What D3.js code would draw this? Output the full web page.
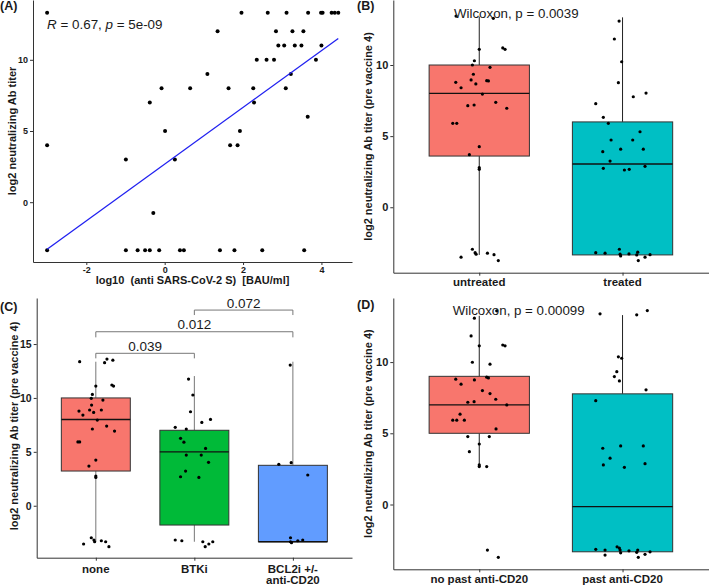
<!DOCTYPE html>
<html><head><meta charset="utf-8">
<script src="https://cdn.jsdelivr.net/npm/d3@7"></script>
<style>
body{margin:0;background:#fff;}
svg{display:block;}
</style></head><body>
<svg id="c" width="709" height="586"></svg>
<script>
// ---------- DATA ----------
// Panel A: scatter
const aLogBAU = [-3.0,1.96,2.63,3.11,3.66,3.99,4.03,4.26,4.34,4.43,
  1.35,2.84,3.26,3.54,
  2.90,3.05,3.32,3.49,4.0,
  2.35,2.60,2.79,3.86,
  1.09,3.22,
  -0.08,0.65,1.63,2.26,3.09,
  -0.38,2.28,
  3.65,
  0.01,1.92,
  -3.0,1.67,1.86,
  -0.99,0.26,
  -0.29,
  -3.0,-0.99,-0.69,-0.50,-0.38,-0.14,0.39,0.49,1.41,1.78,2.49,3.56];
const aLogTiter = [13.3,13.3,13.3,13.3,13.3,13.3,13.3,13.3,13.3,13.3,
  12,12,12,12,
  11,11,11,11,11,
  10,10,10,10,
  9,9,
  8,8,8,8,8,
  7,7,
  6,
  5,5,
  4,4,4,
  3,3,
  -0.75,
  -3.37,-3.37,-3.37,-3.37,-3.37,-3.37,-3.37,-3.37,-3.37,-3.37,-3.37,-3.37];
const aFitX = [-3.0, 4.43];
const aFitY = [-3.3, 11.5];
const aXTicks = [-2, 0, 2, 4];
const aYTicks = [0, 5, 10];
const aStat = "R = 0.67, p = 5e-09";

// Panel B
const bGroups = ["untreated", "treated"];
const bStats = [[-3.35, 3.6, 8.0, 10.0, 13.4], [-3.35, -3.35, 3.04, 6.0, 13.35]]; // lo, q1, med, q3, hi
const bUntreated = [[-0.162,13.44],[0.098,13.28],[0.0,11.1],[0.164,11.2],[0.18,11.1],[-0.034,10.3],[-0.048,10.0],[0.075,9.84],[-0.041,9.35],[-0.057,8.95],[0.052,8.9],[0.064,8.88],[-0.164,8.78],[-0.127,8.4],[-0.024,8.67],[0.022,7.96],[-0.08,7.14],[-0.036,7.19],[0.115,7.38],[0.192,6.96],[-0.185,5.9],[-0.157,5.9],[0.0,4.26],[-0.069,3.7],[0.0,2.78],[0.0,2.67],[-0.127,-3.51],[-0.048,-2.95],[-0.029,-3.19],[-0.022,-3.3],[0.057,-3.23],[0.103,-3.33],[0.133,-3.75]];
const bTreated = [[-0.024,13.09],[-0.057,11.83],[-0.006,10.23],[-0.029,8.76],[0.164,8.03],[0.075,7.77],[-0.187,7.28],[-0.134,6.32],[-0.099,5.9],[0.122,5.31],[-0.08,4.73],[0.071,4.73],[-0.013,4.08],[0.145,4.08],[-0.138,3.91],[-0.087,3.25],[-0.134,2.74],[0.013,2.62],[0.047,2.67],[0.157,2.88],[-0.187,-3.19],[-0.122,-3.23],[-0.022,-2.95],[-0.017,-3.3],[-0.013,-3.42],[0.045,-3.28],[0.106,-3.16],[0.099,-3.35],[0.11,-3.75],[0.157,-3.51],[0.192,-3.33]];
const bYTicks = [0, 5, 10];
const bTest = "Wilcoxon, p = 0.0039";

// Panel C
const cGroups = ["none", "BTKi", "BCL2i +/-\nanti-CD20"];
const cStats = [[-3.34, 3.22, 8.0, 10.0, 13.36], [-3.34, -1.79, 5.0, 7.0, 12.03], [-3.34, -3.34, -3.34, 3.75, 13.36]];
const cNone = [[-0.164,13.36],[0.089,13.27],[0.113,13.6],[0.173,13.5],[0.0,11.1],[0.163,11.2],[0.18,11.1],[-0.035,10.33],[-0.046,9.96],[0.072,9.8],[-0.043,9.34],[-0.171,8.78],[-0.131,8.41],[-0.063,8.88],[-0.022,8.66],[0.056,8.88],[0.015,7.95],[-0.035,7.12],[0.11,7.39],[0.19,6.93],[-0.182,5.92],[-0.164,5.92],[0.0,4.24],[-0.07,3.68],[0.0,2.75],[0.0,2.63],[-0.124,-3.55],[-0.046,-2.97],[-0.019,-3.18],[-0.012,-3.34],[0.056,-3.25],[0.1,-3.34],[0.133,-3.8]];
const cBTKi = [[-0.059,11.75],[-0.015,10.27],[-0.039,8.72],[0.076,7.73],[0.164,8.01],[-0.194,7.27],[-0.082,7.12],[-0.14,6.25],[-0.106,5.9],[0.114,5.32],[-0.082,4.7],[0.07,4.7],[0.144,4.03],[-0.089,3.22],[-0.14,2.69],[0.046,2.63],[-0.194,-3.18],[-0.127,-3.25],[0.086,-3.34],[0.11,-3.8],[0.147,-3.55],[0.187,-3.34]];
const cBCL2i = [[-0.027,13.05],[-0.143,3.84],[-0.017,3.99],[0.151,2.85],[-0.024,-2.97],[-0.024,-3.34],[-0.014,-3.43],[0.05,-3.25],[0.1,-3.18]];
const cYTicks = [0, 5, 10, 15];
const cPairs = [[1, 2, "0.039"], [1, 3, "0.012"], [2, 3, "0.072"]];

// Panel D
const dGroups = ["no past anti-CD20", "past anti-CD20"];
const dStats = [[2.66, 5.0, 7.0, 9.0, 13.25], [-3.32, -3.32, -0.15, 7.77, 13.3]];
const dNoPast = [[-0.034,13.08],[0.122,13.6],[-0.057,11.84],[0.0,11.14],[0.164,11.2],[0.18,11.14],[-0.048,9.99],[0.075,9.85],[-0.164,8.8],[-0.127,8.45],[-0.034,8.75],[0.052,8.94],[0.064,8.89],[0.022,8.0],[0.075,7.79],[0.115,7.39],[-0.08,7.18],[-0.036,7.22],[0.192,6.99],[-0.134,6.34],[-0.185,5.92],[-0.157,5.92],[-0.104,5.92],[0.117,5.31],[-0.08,4.77],[0.07,4.77],[0.0,4.25],[-0.069,3.71],[0.0,2.78],[0.0,2.66],[0.052,2.66],[0.057,-3.2],[0.133,-3.71]];
const dPast = [[-0.157,13.39],[0.099,13.32],[0.173,13.62],[-0.029,10.37],[-0.006,10.27],[-0.04,9.33],[-0.057,8.98],[-0.022,8.68],[0.164,8.05],[-0.187,7.29],[-0.138,3.95],[-0.013,4.11],[0.145,4.11],[-0.087,3.25],[-0.134,2.78],[0.013,2.61],[0.157,2.87],[-0.187,-3.15],[-0.122,-3.2],[-0.122,-3.55],[-0.038,-2.97],[-0.022,-3.06],[-0.017,-3.2],[-0.013,-3.39],[0.045,-3.25],[0.106,-3.2],[0.099,-3.36],[0.11,-3.71],[0.157,-3.5],[0.192,-3.32]];
const dYTicks = [0, 5, 10];
const dTest = "Wilcoxon, p = 0.00099";

const yTitleLong = "log2 neutralizing Ab titer (pre vaccine 4)";
const fill2 = ["#F8766D", "#00BFC4"];
const fill3 = ["#F8766D", "#00BA38", "#619CFF"];

// ---------- DRAW ----------
const FONT = '"Liberation Sans", Arial, Helvetica, sans-serif';
const svg = d3.select("#c").attr("font-family", FONT);

function styleAxis(g, fs) {
  g.select(".domain").attr("stroke", "#333").attr("stroke-width", 1);
  g.selectAll(".tick line").attr("stroke", "#333");
  g.selectAll(".tick text").attr("fill", "#1a1a1a").attr("font-size", fs)
    .attr("font-weight", "bold").attr("font-family", FONT);
}
function yTitle(x, y, txt) {
  svg.append("text").attr("transform", `translate(${x},${y}) rotate(-90)`)
    .attr("text-anchor", "middle").attr("font-size", 11).attr("font-weight", "bold")
    .attr("fill", "#1a1a1a").text(txt);
}
function panelLabel(x, y, txt) {
  svg.append("text").attr("x", x).attr("y", y).attr("font-size", 12.5)
    .attr("font-weight", "bold").attr("fill", "#1a1a1a").text(txt);
}

// ----- Panel A -----
{
  const x = d3.scaleLinear().domain([-3.36, 4.78]).range([33, 352]);
  const y = d3.scaleLinear().domain([-4.2, 14.2]).range([262, 0]);
  const gx = svg.append("g").attr("transform", "translate(0,262)")
    .call(d3.axisBottom(x).tickValues(aXTicks).tickSize(3).tickSizeOuter(0).tickPadding(2).tickFormat(d => String(d)));
  styleAxis(gx, 9);
  const gy = svg.append("g").attr("transform", "translate(33,0)")
    .call(d3.axisLeft(y).tickValues(aYTicks).tickSize(3).tickSizeOuter(0).tickPadding(2).tickFormat(d => String(d)));
  styleAxis(gy, 9);
  svg.append("g").selectAll("circle").data(aLogBAU.map((v, i) => [v, aLogTiter[i]]))
    .join("circle").attr("cx", d => x(d[0])).attr("cy", d => y(d[1])).attr("r", 2).attr("fill", "#000");
  svg.append("path").datum(aFitX.map((v, i) => [v, aFitY[i]]))
    .attr("d", d3.line().x(d => x(d[0])).y(d => y(d[1])))
    .attr("stroke", "#2020f0").attr("stroke-width", 1.3).attr("fill", "none");
  const t = svg.append("text").attr("x", x(-3.0)).attr("y", 29.3).attr("font-size", 13.4).attr("fill", "#1a1a1a");
  t.append("tspan").attr("font-style", "italic").text("R");
  t.append("tspan").text(" = 0.67, ");
  t.append("tspan").attr("font-style", "italic").text("p");
  t.append("tspan").text(" = 5e-09");
  svg.append("text").attr("x", 192.5).attr("y", 284).attr("text-anchor", "middle")
    .attr("font-size", 11).attr("font-weight", "bold").attr("fill", "#1a1a1a")
    .style("white-space", "pre").text("log10  (anti SARS-CoV-2 S)  [BAU/ml]");
  yTitle(16, 131, "log2 neutralizing Ab titer");
  panelLabel(0, 10, "(A)");
}

function boxPanel(o) {
  const { x, y, groups, stats, points, fills, whisker, yTicks, baseY, axisX, labelY, tickFs } = o;
  const gx = svg.append("g").attr("transform", `translate(0,${baseY})`)
    .call(d3.axisBottom(x).tickValues(groups.map((g, i) => i + 1)).tickSize(3).tickSizeOuter(0).tickFormat(""));
  styleAxis(gx, 11);
  groups.forEach((g, i) => {
    const lines = g.split("\n");
    const t = svg.append("text").attr("x", x(i + 1)).attr("y", labelY).attr("text-anchor", "middle")
      .attr("font-size", 11.5).attr("font-weight", "bold").attr("fill", "#1a1a1a");
    lines.forEach((l, k) => t.append("tspan").attr("x", x(i + 1)).attr("dy", k === 0 ? 0 : 11).text(l));
  });
  const gy = svg.append("g").attr("transform", `translate(${axisX},0)`)
    .call(d3.axisLeft(y).tickValues(yTicks).tickSize(3).tickSizeOuter(0).tickPadding(2).tickFormat(d => String(d)));
  styleAxis(gy, tickFs);
  const bw = 0.35;
  stats.forEach((s, i) => {
    const c = i + 1;
    svg.append("line").attr("x1", x(c)).attr("x2", x(c)).attr("y1", y(s[3])).attr("y2", y(s[4]))
      .attr("stroke", whisker).attr("stroke-width", 1);
    svg.append("line").attr("x1", x(c)).attr("x2", x(c)).attr("y1", y(s[1])).attr("y2", y(s[0]))
      .attr("stroke", whisker).attr("stroke-width", 1);
    svg.append("rect").attr("x", x(c - bw)).attr("width", x(c + bw) - x(c - bw))
      .attr("y", y(s[3])).attr("height", y(s[1]) - y(s[3]))
      .attr("fill", fills[i]).attr("stroke", "#333").attr("stroke-width", 1);
    svg.append("line").attr("x1", x(c - bw)).attr("x2", x(c + bw)).attr("y1", y(s[2])).attr("y2", y(s[2]))
      .attr("stroke", "#111").attr("stroke-width", 1.3);
  });
  points.forEach((pts, i) => {
    svg.append("g").selectAll("circle").data(pts).join("circle")
      .attr("cx", d => x(i + 1 + d[0])).attr("cy", d => y(d[1])).attr("r", 1.6).attr("fill", "#000");
  });
}

// ----- Panel B -----
{
  const x = d3.scaleLinear().domain([0.4, 2.6]).range([393.3, 708.5]);
  const y = d3.scaleLinear().domain([-4.6, 14.57]).range([272.7, 0]);
  boxPanel({ x, y, groups: bGroups, stats: bStats, points: [bUntreated, bTreated], fills: fill2,
    whisker: "#222", yTicks: bYTicks, baseY: 272.7, axisX: 393.3, labelY: 286, tickFs: 11 });
  svg.append("text").attr("x", 454).attr("y", 18).attr("font-size", 13.3).attr("fill", "#1a1a1a").text(bTest);
  yTitle(372, 136.5, yTitleLong);
  panelLabel(357, 10, "(B)");
}

// ----- Panel C -----
{
  const x = d3.scaleLinear().domain([0.4, 3.6]).range([36.7, 352]);
  const y = d3.scaleLinear().domain([-4.82, 19.27]).range([557.7, 298]);
  boxPanel({ x, y, groups: cGroups, stats: cStats, points: [cNone, cBTKi, cBCL2i], fills: fill3,
    whisker: "#777", yTicks: cYTicks, baseY: 557.7, axisX: 36.7, labelY: 572.5, tickFs: 10.5 });
  const levels = [[14.14, 13.67], [16.14, 15.62], [18.15, 17.69]];
  cPairs.forEach((p, i) => {
    const [top, low] = levels[i];
    svg.append("path")
      .attr("d", `M${x(p[0])},${y(low)}V${y(top)}H${x(p[1])}V${y(low)}`)
      .attr("fill", "none").attr("stroke", "#777").attr("stroke-width", 1);
    svg.append("text").attr("x", (x(p[0]) + x(p[1])) / 2).attr("y", y(top) - 2.3)
      .attr("text-anchor", "middle").attr("font-size", 13.5).attr("fill", "#1a1a1a").text(p[2]);
  });
  yTitle(17.5, 426, yTitleLong);
  panelLabel(0, 311, "(C)");
}

// ----- Panel D -----
{
  const x = d3.scaleLinear().domain([0.4, 2.6]).range([393.3, 708.5]);
  const y = d3.scaleLinear().domain([-4.55, 14.5]).range([569.3, 298]);
  boxPanel({ x, y, groups: dGroups, stats: dStats, points: [dNoPast, dPast], fills: fill2,
    whisker: "#222", yTicks: dYTicks, baseY: 569.3, axisX: 393.3, labelY: 582.5, tickFs: 11 });
  svg.append("text").attr("x", 452.7).attr("y", 315).attr("font-size", 13.3).attr("fill", "#1a1a1a").text(dTest);
  yTitle(372, 433.6, yTitleLong);
  panelLabel(357, 309, "(D)");
}
</script>
</body></html>
